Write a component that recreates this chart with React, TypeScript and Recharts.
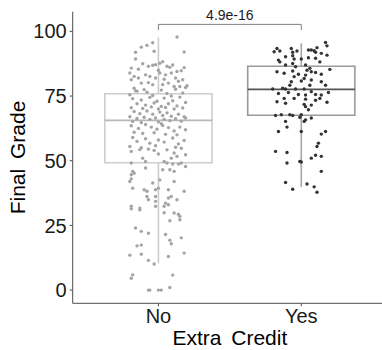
import React from 'react';
import {
  ComposedChart,
  Scatter,
  XAxis,
  YAxis,
  ReferenceArea,
  ReferenceLine,
  ReferenceDot,
  Label,
} from 'recharts';

const groups = ['No', 'Yes'];
const yTicks = [0, 25, 50, 75, 100];

// box stats: [No, Yes]
const lowerWhisker = [10.3, 39.9];
const q1 = [49.2, 67.6];
const median = [65.6, 77.6];
const q3 = [75.9, 86.5];
const upperWhisker = [97.7, 95.4];

const pLabel = '4.9e-16';

// jittered points: [x offset from category, final grade]
const noPoints: [number, number][] = [
  [0.13, 97.8], [-0.04, 95.6], [-0.08, 94.6], [-0.12, 93.9], [-0.16, 91.9], [-0.03, 92.3], [0.18, 92.0],
  [-0.16, 89.3], [0.01, 87.7], [0.03, 88.3], [-0.02, 87.1],
  [-0.07, 86.5], [-0.04, 86.9], [-0.19, 85.8], [-0.14, 85.4], [0.06, 86.5], [0.08, 86.1], [0.16, 84.8],
  [-0.2, 83.9], [-0.17, 82.6], [-0.14, 82.0], [-0.09, 83.2], [-0.06, 82.6], [-0.02, 82.0], [0.01, 83.9],
  [0.05, 83.2], [0.09, 83.9], [0.12, 82.0], [0.14, 80.7], [0.17, 81.3], [-0.19, 81.3], [-0.12, 80.0],
  [-0.04, 79.4], [0.03, 79.4], [0.07, 80.0], [0.11, 78.7], [0.15, 78.7], [0.19, 78.3], [-0.17, 78.0],
  [-0.1, 77.5], [0.0, 85.0], [0.1, 87.0], [-0.11, 87.5], [0.04, 81.5], [-0.07, 80.2], [0.18, 86.0],
  [0.2, 79.0], [-0.15, 76.9], [0.13, 84.5],
  [-0.16, 77.0], [-0.08, 76.5], [0.02, 77.3], [0.06, 76.0], [0.12, 77.6], [0.17, 76.2], [-0.2, 75.5],
  [-0.04, 75.2], [0.09, 75.0],
  [-0.18, 74.0], [-0.12, 73.5], [-0.06, 74.5], [-0.01, 73.0], [0.04, 74.2], [0.1, 73.2], [0.15, 74.6],
  [0.19, 72.5], [-0.15, 72.0], [-0.09, 71.5], [-0.03, 72.3], [0.02, 71.0], [0.07, 72.0], [0.13, 71.2],
  [-0.19, 70.5], [-0.11, 70.2], [-0.05, 70.8], [0.0, 70.0], [0.05, 70.6], [0.11, 70.0], [0.17, 70.4],
  [-0.17, 69.0], [-0.13, 68.2], [-0.08, 69.2], [-0.04, 68.0], [0.01, 68.8], [0.03, 67.5], [0.06, 68.5],
  [0.09, 67.2], [0.14, 68.0], [0.18, 67.0], [-0.2, 67.0], [-0.15, 66.3], [-0.1, 66.8], [-0.06, 66.0],
  [-0.02, 66.5], [0.0, 65.0], [0.04, 66.0], [0.08, 65.5], [0.12, 66.2], [0.16, 65.3], [-0.18, 65.2],
  [-0.12, 64.8], [0.02, 64.3], [0.19, 66.5],
  [-0.19, 63.5], [-0.14, 62.5], [-0.09, 64.0], [-0.05, 63.0], [-0.01, 62.2], [0.03, 63.6], [0.07, 62.8],
  [0.11, 61.5], [0.15, 63.0], [0.19, 62.0], [-0.17, 61.0], [-0.11, 60.5], [-0.03, 60.8], [0.05, 60.2],
  [0.13, 60.0],
  [-0.18, 59.0], [-0.15, 57.5], [-0.09, 58.5], [-0.06, 56.8], [0.0, 58.0], [0.04, 57.2], [0.1, 58.8],
  [0.14, 56.5], [0.18, 57.8], [-0.2, 55.5], [-0.12, 55.0], [-0.07, 54.5], [-0.02, 55.8], [0.06, 54.2],
  [0.12, 55.2], [0.16, 54.8],
  [-0.19, 53.6], [-0.13, 54.3], [-0.03, 54.0], [0.0, 52.6], [0.11, 53.0], [0.13, 51.7], [0.19, 52.3],
  [0.09, 51.0], [-0.11, 51.0], [-0.09, 49.7], [-0.19, 49.1], [0.04, 49.7], [0.06, 49.1], [0.1, 48.7],
  [0.14, 48.7], [0.16, 49.1], [0.19, 47.8], [-0.09, 47.2], [0.03, 46.5], [0.08, 46.5], [0.11, 45.9],
  [-0.18, 45.9], [-0.19, 44.6], [-0.17, 45.2], [-0.19, 43.0], [-0.04, 41.4], [0.01, 42.6], [0.11, 42.0],
  [-0.2, 42.0], [-0.18, 39.4], [-0.1, 38.8], [-0.08, 38.2], [-0.02, 38.8], [0.0, 39.4], [0.07, 38.8],
  [0.18, 38.2], [-0.08, 36.2], [-0.02, 36.2], [0.09, 36.2], [0.07, 35.6], [0.13, 34.9], [-0.07, 34.9],
  [-0.02, 34.3], [0.05, 33.6], [-0.19, 32.4], [-0.13, 31.7], [-0.02, 32.4], [0.04, 32.4], [0.07, 33.0],
  [-0.19, 31.4], [-0.13, 31.0], [0.04, 29.9], [0.11, 29.8], [0.14, 29.3], [0.15, 28.5], [0.15, 27.2],
  [0.08, 26.8], [-0.16, 24.0], [-0.12, 22.7], [-0.07, 22.0], [0.05, 21.5], [0.16, 20.2], [0.08, 19.3],
  [0.09, 17.9], [-0.15, 17.1], [-0.12, 17.4], [-0.2, 13.5], [-0.12, 13.9], [0.18, 14.3], [0.07, 13.0],
  [-0.07, 11.5], [-0.03, 10.1], [-0.18, 5.9], [-0.19, 4.6], [0.1, 5.8], [-0.07, 0.0], [-0.06, 0.0],
  [0.0, 0.0], [0.02, 0.0], [0.08, 1.0],
];

const yesPoints: [number, number][] = [
  [0.17, 95.7], [0.18, 94.4], [0.11, 93.7], [0.07, 92.8], [0.09, 92.5], [0.1, 91.9], [0.05, 92.8],
  [-0.17, 93.4], [-0.19, 92.1], [-0.15, 92.4], [-0.07, 93.4], [-0.03, 92.4], [-0.06, 91.9], [-0.11, 90.2],
  [-0.06, 90.6], [0.05, 89.8], [0.1, 89.6], [0.14, 91.5], [0.18, 90.8], [-0.16, 88.9], [-0.15, 88.2],
  [-0.05, 89.3], [-0.06, 87.6], [-0.11, 87.0], [0.0, 89.3], [0.13, 88.2], [0.03, 87.0], [0.2, 85.3],
  [-0.17, 84.4], [-0.12, 83.8], [-0.06, 84.7], [-0.04, 86.3], [0.06, 85.7], [0.07, 84.4], [0.1, 84.1],
  [-0.02, 83.4], [0.03, 83.1], [0.14, 83.4], [0.04, 85.0], [-0.05, 82.5], [0.02, 81.8], [0.0, 80.8],
  [-0.07, 80.5], [-0.08, 79.2], [0.14, 80.5], [0.17, 79.2], [0.07, 81.2], [0.06, 79.2], [-0.2, 77.7],
  [-0.13, 78.0], [-0.11, 77.7], [-0.04, 77.7], [0.02, 77.7], [0.07, 76.7], [0.1, 75.6], [-0.16, 76.0],
  [-0.09, 76.4], [-0.02, 75.6], [0.03, 75.4], [0.14, 75.4], [0.19, 76.4], [-0.12, 74.1], [-0.05, 74.1],
  [0.03, 73.8], [0.1, 73.4], [0.13, 74.1], [-0.17, 72.8], [-0.11, 72.2], [0.02, 71.8], [0.07, 71.5],
  [0.18, 72.6], [0.03, 70.9], [0.05, 69.7],
  [-0.18, 67.5], [-0.14, 67.8], [-0.08, 67.8], [-0.06, 67.5], [-0.01, 66.8], [0.0, 67.8], [0.02, 65.2],
  [0.03, 65.8], [0.07, 66.5], [-0.11, 65.2], [-0.1, 63.0], [-0.16, 61.3], [0.0, 61.3], [0.17, 61.3],
  [0.14, 60.3], [0.12, 56.8], [0.11, 55.5], [-0.18, 53.6], [-0.1, 53.2], [0.1, 52.1], [0.07, 51.0],
  [0.14, 51.7], [-0.01, 49.7], [0.0, 49.5], [-0.1, 49.1], [0.14, 45.9], [-0.11, 41.6], [-0.06, 39.0],
  [0.04, 41.0], [0.09, 39.9], [0.11, 37.8],
];

const noData = noPoints.map(([j, v]) => ({ x: 1 + j, y: v }));
const yesData = yesPoints.map(([j, v]) => ({ x: 2 + j, y: v }));

const font = '"Liberation Sans", Arial, sans-serif';
const boxColors = ['#cdcdcd', '#9a9a9a'];
const medianColors = ['#b8b8b8', '#555555'];
const pointColors = ['#a4a4a4', '#333333'];
const halfWidth = 0.375;

const dot = (color: string) => (props: any) =>
  <circle cx={props.cx} cy={props.cy} r={1.7} fill={color} />;

export default function App() {
  return (
    <div style={{ position: 'absolute', left: 0, top: 0, width: 382, height: 350, overflow: 'hidden', background: '#fff' }}>
      <ComposedChart
        width={392}
        height={350}
        margin={{ top: 11.7, right: 5, bottom: 0, left: 0 }}
        style={{ fontFamily: font }}
      >
        <XAxis
          dataKey="x"
          type="number"
          domain={[0.4, 2.6]}
          ticks={[1, 2]}
          allowDataOverflow
          tickFormatter={(v) => groups[v - 1]}
          height={46.7}
          tickSize={3}
          stroke="#4d4d4d"
          tick={{ fill: '#1a1a1a', fontSize: 20, fontFamily: font }}
        >
          <Label value="Extra Credit" position="insideBottom" offset={5} style={{ fontSize: 21, fill: '#000', fontFamily: font, wordSpacing: 4 }} />
        </XAxis>
        <YAxis
          dataKey="y"
          type="number"
          domain={[-5.1, 107.6]}
          ticks={yTicks}
          allowDataOverflow
          width={72.7}
          tickSize={3}
          tickMargin={3}
          stroke="#4d4d4d"
          tick={{ fill: '#1a1a1a', fontSize: 20, fontFamily: font }}
        >
          <Label value="Final Grade" angle={-90} position="insideLeft" offset={18} style={{ fontSize: 21, fill: '#000', fontFamily: font, textAnchor: 'middle', wordSpacing: 4 }} />
        </YAxis>

        {groups.map((g, i) => (
          <ReferenceLine key={'wu' + g} segment={[{ x: i + 1, y: q3[i] }, { x: i + 1, y: upperWhisker[i] }]} stroke={i ? '#a6a6a6' : boxColors[0]} strokeWidth={1.6} />
        ))}
        {groups.map((g, i) => (
          <ReferenceLine key={'wl' + g} segment={[{ x: i + 1, y: lowerWhisker[i] }, { x: i + 1, y: q1[i] }]} stroke={i ? '#a6a6a6' : boxColors[0]} strokeWidth={1.6} />
        ))}
        {groups.map((g, i) => (
          <ReferenceArea key={'box' + g} x1={i + 1 - halfWidth} x2={i + 1 + halfWidth} y1={q1[i]} y2={q3[i]} fill="none" fillOpacity={0} stroke={boxColors[i]} strokeWidth={1.6} />
        ))}
        {groups.map((g, i) => (
          <ReferenceLine key={'med' + g} segment={[{ x: i + 1 - halfWidth, y: median[i] }, { x: i + 1 + halfWidth, y: median[i] }]} stroke={medianColors[i]} strokeWidth={1.8} />
        ))}

        <Scatter data={noData} shape={dot(pointColors[0])} isAnimationActive={false} />
        <Scatter data={yesData} shape={dot(pointColors[1])} isAnimationActive={false} />

        {/* significance bracket */}
        <ReferenceLine segment={[{ x: 1, y: 102.7 }, { x: 2, y: 102.7 }]} stroke="#7f7f7f" strokeWidth={1} />
        <ReferenceLine segment={[{ x: 1, y: 102.7 }, { x: 1, y: 100.5 }]} stroke="#7f7f7f" strokeWidth={1} />
        <ReferenceLine segment={[{ x: 2, y: 102.7 }, { x: 2, y: 100.5 }]} stroke="#7f7f7f" strokeWidth={1} />
        <ReferenceDot
          x={1.5}
          y={102.7}
          r={0}
          fill="none"
          stroke="none"
          label={{ value: pLabel, position: 'top', offset: 4, fontSize: 14, fill: '#1a1a1a', fontFamily: font }}
        />
      </ComposedChart>
    </div>
  );
}
